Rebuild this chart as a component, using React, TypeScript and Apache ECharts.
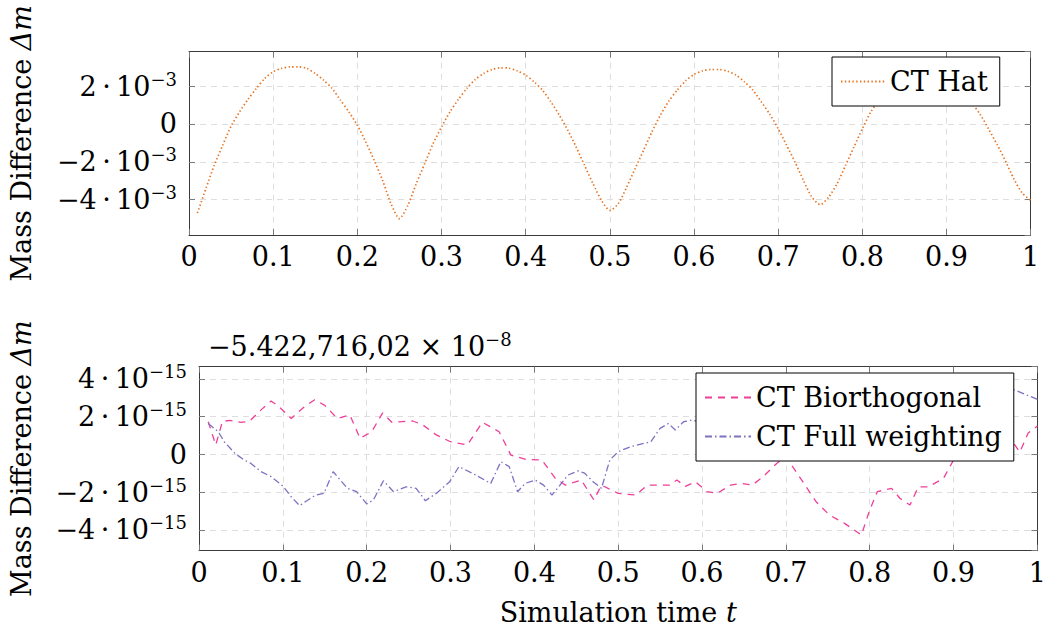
import React, { useEffect, useRef } from "react";
import * as echarts from "echarts";

const FONT = "DejaVu Serif";
const FS = 27;

// Top panel: CT Hat, mass difference in units of 1e-3
const hatTime = Array.from({ length: 100 }, (_, i) => +(0.01 * (i + 1)).toFixed(2));
const hatValues = [
  -4.7, -3.42, -2.18, -1.13, -0.12, 0.63, 1.29, 1.87, 2.4, 2.75,
  2.93, 3.01, 3.01, 2.93, 2.66, 2.31, 1.87, 1.25, 0.63, -0.07,
  -0.95, -1.92, -2.98, -4.21, -5.0, -4.3, -3.15, -2.1, -1.04, -0.16,
  0.63, 1.29, 1.87, 2.34, 2.66, 2.87, 2.96, 2.94, 2.8, 2.57,
  2.22, 1.78, 1.16, 0.46, -0.33, -1.22, -2.19, -3.15, -4.03, -4.56,
  -4.21, -3.33, -2.36, -1.39, -0.42, 0.46, 1.2, 1.78, 2.27, 2.61,
  2.8, 2.87, 2.87, 2.78, 2.57, 2.22, 1.78, 1.16, 0.51, -0.25,
  -1.13, -2.01, -2.98, -3.86, -4.26, -3.86, -3.15, -2.19, -1.22, -0.25,
  0.63, 1.25, 1.8, 2.25, 2.58, 2.78, 2.85, 2.84, 2.74, 2.55,
  2.2, 1.75, 1.12, 0.5, -0.27, -1.08, -1.95, -2.9, -3.65, -4.03,
];

// Bottom panel: offsets from -5.42271602e-8, in units of 1e-15
const bioTime = [
  0.011, 0.02, 0.028, 0.037, 0.05, 0.06, 0.075, 0.086, 0.095, 0.11, 0.125, 0.138, 0.15, 0.165, 0.18, 0.192,
  0.206, 0.219, 0.23, 0.255, 0.267, 0.283, 0.3, 0.32, 0.338, 0.358, 0.372, 0.39, 0.409, 0.425, 0.437, 0.456,
  0.471, 0.48, 0.5, 0.521, 0.535, 0.561, 0.57, 0.58, 0.592, 0.606, 0.618, 0.634, 0.646, 0.66, 0.673, 0.689,
  0.7, 0.716, 0.736, 0.752, 0.77, 0.79, 0.8, 0.809, 0.826, 0.836, 0.848, 0.858, 0.87, 0.888, 0.9, 0.91,
  0.92, 0.935, 0.95, 0.96, 0.97, 0.979, 0.989, 1.0,
];
const bioValues = [
  1.73, 0.5, 1.75, 1.8, 1.7, 1.75, 2.4, 2.83, 2.55, 1.9, 2.5, 2.9, 2.6, 1.9, 2.09, 0.85,
  1.2, 2.2, 1.7, 1.77, 1.56, 1.03, 0.67, 0.5, 1.7, 1.2, -0.04, -0.27, -0.3, -1.27, -1.63, -1.36,
  -2.42, -1.63, -2.07, -2.16, -1.63, -1.63, -1.36, -1.7, -1.45, -1.98, -2.07, -1.63, -1.54, -1.63, -1.18, -0.48,
  -0.12, -1.18, -2.51, -3.22, -3.66, -4.28, -2.95, -1.98, -1.8, -2.33, -2.69, -1.72, -1.72, -1.27, -0.3, 0.32,
  0.9, 0.5, 1.2, 0.9, 0.7, 0.12, 1.13, 1.5,
];
const fullTime = [
  0.011, 0.023, 0.03, 0.043, 0.054, 0.062, 0.074, 0.086, 0.1, 0.11, 0.12, 0.13, 0.139, 0.149, 0.16, 0.177,
  0.188, 0.2, 0.208, 0.22, 0.232, 0.247, 0.259, 0.27, 0.283, 0.299, 0.31, 0.326, 0.348, 0.36, 0.37, 0.38,
  0.389, 0.401, 0.411, 0.421, 0.429, 0.44, 0.452, 0.46, 0.47, 0.48, 0.49, 0.5, 0.515, 0.539, 0.55, 0.56,
  0.568, 0.578, 0.588, 0.61, 0.63, 0.65, 0.68, 0.7, 0.73, 0.76, 0.8, 0.83, 0.86, 0.9, 0.93, 0.95, 0.968, 1.0,
];
const fullValues = [
  1.64, 1.2, 0.67, 0.05, -0.3, -0.48, -0.92, -1.18, -1.68, -2.25, -2.72, -2.42, -2.16, -2.07, -0.92, -1.8,
  -1.98, -2.63, -2.42, -1.4, -1.98, -1.72, -1.8, -2.46, -2.07, -1.45, -0.65, -1.0, -1.54, -0.39, -0.65, -1.98,
  -1.54, -1.36, -1.63, -2.16, -1.72, -1.1, -0.88, -1.0, -1.45, -1.8, -0.3, 0.14, 0.41, 0.67, 1.38, 1.64,
  1.29, 1.73, 1.82, 1.6, 2.1, 1.9, 2.4, 2.2, 2.6, 2.5, 2.9, 2.7, 3.1, 3.0, 3.3, 3.4, 3.5, 2.92,
];

const offsetText = "{n|−5.422,716,02 × 10}{s|−8}";

const ORANGE = "#e8731f";
const PINK = "#ee3f98";
const PURPLE = "#7a72c2";

const richLabel = {
  n: { fontSize: FS, fontFamily: FONT, color: "#000", lineHeight: 32, fontWeight: "normal" as const },
  s: { fontSize: 18, fontFamily: FONT, color: "#000", verticalAlign: "top" as const, lineHeight: 19, fontWeight: "normal" as const },
};

const yFormatter = (exp: string) => (v: number) => {
  const r = Math.round(v);
  if (r === 0) return "{n|0}";
  const sign = r < 0 ? "−" : "";
  return `{n|${sign}${Math.abs(r)}\u2009·\u200910}{s|−${exp}}`;
};

const xFormatter = (v: number) => {
  const r = Math.round(v * 10) / 10;
  if (r === 0) return "0";
  if (r === 1) return "1";
  return r.toFixed(1);
};

const splitLine = {
  show: true,
  showMinLine: false,
  showMaxLine: false,
  lineStyle: { color: "#dedede", type: [6, 5] as number[], width: 1 },
};
const axisLineStyle = { show: true, onZero: false, lineStyle: { color: "#3a3a3a", width: 1 } };
const tickStyle = { show: true, inside: true, length: 6, lineStyle: { color: "#7a7a7a", width: 1 } };

const nameStyle = {
  fontSize: FS,
  fontFamily: FONT,
  color: "#000",
  rich: { i: { fontSize: FS, fontFamily: FONT, fontStyle: "italic", color: "#000" } },
};

function mainX(gridIndex: number, withName: boolean) {
  return {
    type: "value",
    gridIndex,
    min: 0,
    max: 1,
    interval: 0.1,
    axisLine: axisLineStyle,
    axisTick: tickStyle,
    splitLine,
    axisLabel: { formatter: xFormatter, fontSize: FS, fontFamily: FONT, color: "#000", margin: 8 },
    name: withName ? "Simulation time {i|t}" : "",
    nameLocation: "middle",
    nameGap: 48,
    nameTextStyle: nameStyle,
  };
}

function secondX(gridIndex: number) {
  return {
    type: "value",
    gridIndex,
    position: "top",
    min: 0,
    max: 1,
    interval: 0.1,
    axisLine: axisLineStyle,
    axisTick: tickStyle,
    splitLine: { show: false },
    axisLabel: { show: false },
  };
}

function mainY(gridIndex: number, min: number, max: number, exp: string, nameGap: number) {
  return {
    type: "value",
    gridIndex,
    min,
    max,
    splitNumber: 5,
    axisLine: axisLineStyle,
    axisTick: tickStyle,
    splitLine,
    axisLabel: {
      formatter: yFormatter(exp),
      showMinLabel: false,
      showMaxLabel: false,
      margin: 12,
      rich: richLabel,
    },
    name: "Mass Difference {i|Δm}",
    nameLocation: "middle",
    nameGap,
    nameRotate: 90,
    nameTextStyle: nameStyle,
  };
}

function secondY(gridIndex: number, min: number, max: number) {
  return {
    type: "value",
    gridIndex,
    position: "right",
    min,
    max,
    splitNumber: 5,
    axisLine: axisLineStyle,
    axisTick: tickStyle,
    splitLine: { show: false },
    axisLabel: { show: false },
  };
}

const legendText = { fontSize: FS, fontFamily: FONT, color: "#000" };

export default function App() {
  const ref = useRef<HTMLDivElement>(null);
  useEffect(() => {
    if (!ref.current) return;
    const chart = echarts.init(ref.current, null, { renderer: "svg" });
    const option: any = {
      animation: false,
      backgroundColor: "#fff",
      title: {
        text: offsetText,
        left: 208,
        top: 330,
        padding: 0,
        textStyle: {
          fontWeight: "normal",
          rich: {
            n: { fontSize: FS, fontFamily: FONT, color: "#000", lineHeight: 32, fontWeight: "normal" },
            s: { fontSize: 18, fontFamily: FONT, color: "#000", verticalAlign: "top", lineHeight: 19, fontWeight: "normal" },
          },
        },
      },
      grid: [
        { left: 186.7, top: 51.7, width: 844, height: 183.3 },
        { left: 197.3, top: 366.7, width: 845.7, height: 184 },
      ],
      xAxis: [mainX(0, false), mainX(1, true), secondX(0), secondX(1)],
      yAxis: [
        mainY(0, -5.86, 3.81, "3", 154),
        mainY(1, -5.11, 4.65, "15", 164),
        secondY(0, -5.86, 3.81),
        secondY(1, -5.11, 4.65),
      ],
      legend: [
        {
          data: ["CT Hat"],
          left: 832,
          top: 57,
          itemWidth: 44,
          itemHeight: 14,
          itemGap: 6,
          itemStyle: { opacity: 0 },
          textStyle: legendText,
          backgroundColor: "#fff",
          borderColor: "#000",
          borderWidth: 1,
          borderRadius: 0,
          padding: [11, 12, 11, 8],
          selectedMode: false,
        },
        {
          data: ["CT Biorthogonal", "CT Full weighting"],
          orient: "vertical",
          left: 696,
          top: 373,
          itemWidth: 46,
          itemHeight: 14,
          itemGap: 12,
          itemStyle: { opacity: 0 },
          textStyle: legendText,
          backgroundColor: "#fff",
          borderColor: "#000",
          borderWidth: 1,
          borderRadius: 0,
          padding: [11, 12, 11, 8],
          selectedMode: false,
        },
      ],
      series: [
        {
          name: "CT Hat",
          type: "line",
          xAxisIndex: 0,
          yAxisIndex: 0,
          data: hatTime.map((t, i) => [t, hatValues[i]]),
          symbol: "none",
          smooth: 0.25,
          lineStyle: { color: ORANGE, width: 1.7, type: [1.4, 2.4] },
          itemStyle: { color: ORANGE },
        },
        {
          name: "CT Biorthogonal",
          type: "line",
          xAxisIndex: 1,
          yAxisIndex: 1,
          data: bioTime.map((t, i) => [t, bioValues[i]]),
          symbol: "none",
          lineStyle: { color: PINK, width: 1.3, type: [7, 6] },
          itemStyle: { color: PINK },
        },
        {
          name: "CT Full weighting",
          type: "line",
          xAxisIndex: 1,
          yAxisIndex: 1,
          data: fullTime.map((t, i) => [t, fullValues[i]]),
          symbol: "none",
          lineStyle: { color: PURPLE, width: 1.3, type: [7, 3, 1.5, 3] },
          itemStyle: { color: PURPLE },
        },
      ],
    };
    chart.setOption(option);
    return () => chart.dispose();
  }, []);
  return (
    <div
      ref={ref}
      style={{ position: "fixed", left: 0, top: 0, width: 1049, height: 637, background: "#fff" }}
    />
  );
}
